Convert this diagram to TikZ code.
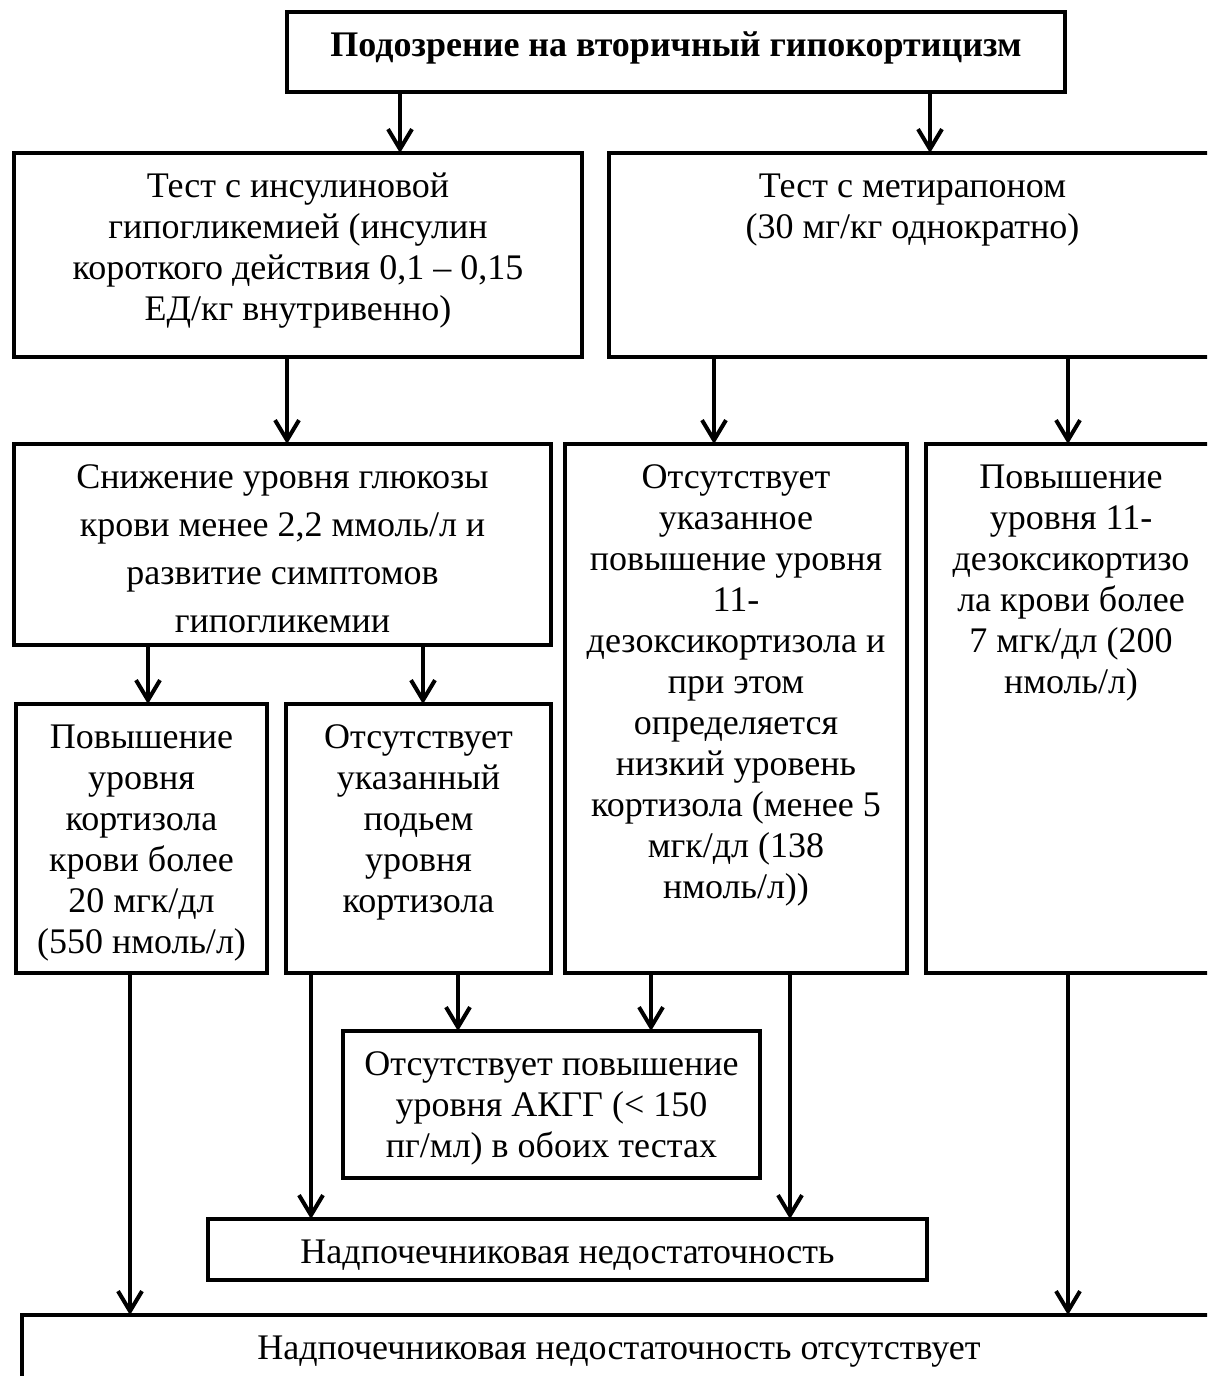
\documentclass[tikz,border=0pt]{standalone}
\usepackage{fontspec}
\setmainfont{Liberation Serif}
\usetikzlibrary{arrows.meta}
% box text: [baselineskip]{width}{height}{lines}
\newcommand{\boxtext}[4][20.5]{\parbox[c][#3][t]{#2}{\fontsize{18}{#1}\selectfont\centering\rule{0pt}{22pt}#4\par}}

\begin{document}
\begin{tikzpicture}[x=0.5pt,y=-0.5pt,
  box/.style={draw,line width=2pt,inner sep=0pt,outer sep=0pt,anchor=north west},
  arr/.style={line width=2pt,-{Straight Barb[length=10pt,width=12pt]}}]
  \useasboundingbox (0,0) rectangle (1207,1376);
  \clip (0,0) rectangle (1207,1376);

  \node[box] (susp) at (287,12) {\boxtext{389pt}{40pt}{\bfseries Подозрение на вторичный гипокортицизм}};

  \node[box] (insul) at (14,153) {\boxtext{284pt}{102pt}{Тест с инсулиновой\\ гипогликемией (инсулин\\ короткого действия 0,1 – 0,15\\ ЕД/кг внутривенно)}};
  \node[box] (metir) at (609,153) {\boxtext{303.5pt}{102pt}{Тест с метирапоном\\ (30 мг/кг однократно)}};

  \node[box] (gluc) at (14,444) {\boxtext[24]{268.5pt}{100.5pt}{Снижение уровня глюкозы\\ крови менее 2,2 ммоль/л и\\ развитие симптомов\\ гипогликемии}};
  \node[box] (nodeso) at (565,444) {\boxtext{171pt}{264.5pt}{Отсутствует\\ указанное\\ повышение уровня\\ 11-\\ дезоксикортизола и\\ при этом\\ определяется\\ низкий уровень\\ кортизола (менее 5\\ мгк/дл (138\\ нмоль/л))}};
  \node[box] (deso) at (926,444) {\boxtext{145pt}{264.5pt}{Повышение\\ уровня 11-\\ дезоксикортизо\\ ла крови более\\ 7 мгк/дл (200\\ нмоль/л)}};

  \node[box] (cort) at (16,704) {\boxtext{125.5pt}{134.5pt}{Повышение\\ уровня\\ кортизола\\ крови более\\ 20 мгк/дл\\ (550 нмоль/л)}};
  \node[box] (nocort) at (286,704) {\boxtext{132.5pt}{134.5pt}{Отсутствует\\ указанный\\ подьем\\ уровня\\ кортизола}};

  \node[box] (acth) at (343,1031) {\boxtext{208.5pt}{73.5pt}{Отсутствует повышение\\ уровня АКГГ (< 150\\ пг/мл) в обоих тестах}};
  \node[box] (insuf) at (208,1219) {\boxtext{359.5pt}{30.5pt}{Надпочечниковая недостаточность}};
  \node[box] (noinsuf) at (22,1315) {\boxtext{597pt}{42.5pt}{Надпочечниковая недостаточность отсутствует}};

  % arrows
  \draw[arr] (400,0 |- susp.south) -- (400,0 |- insul.north);
  \draw[arr] (930,0 |- susp.south) -- (930,0 |- metir.north);
  \draw[arr] (287,0 |- insul.south) -- (287,0 |- gluc.north);
  \draw[arr] (714,0 |- metir.south) -- (714,0 |- nodeso.north);
  \draw[arr] (1068,0 |- metir.south) -- (1068,0 |- deso.north);
  \draw[arr] (148,0 |- gluc.south) -- (148,0 |- cort.north);
  \draw[arr] (423,0 |- gluc.south) -- (423,0 |- nocort.north);
  \draw[arr] (130,0 |- cort.south) -- (130,0 |- noinsuf.north);
  \draw[arr] (311,0 |- nocort.south) -- (311,0 |- insuf.north);
  \draw[arr] (458,0 |- nocort.south) -- (458,0 |- acth.north);
  \draw[arr] (651,0 |- nodeso.south) -- (651,0 |- acth.north);
  \draw[arr] (790,0 |- nodeso.south) -- (790,0 |- insuf.north);
  \draw[arr] (1068,0 |- deso.south) -- (1068,0 |- noinsuf.north);
\end{tikzpicture}
\end{document}
